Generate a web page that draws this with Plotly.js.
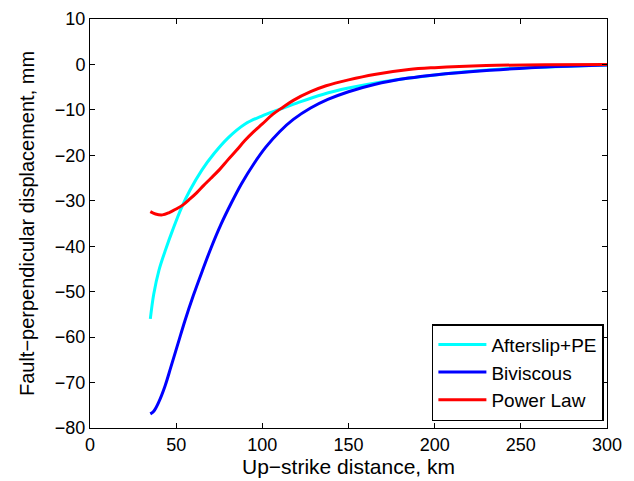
<!DOCTYPE html>
<html>
<head>
<meta charset="utf-8">
<script src="https://cdn.plot.ly/plotly-3.0.1.min.js"></script>
<style>html,body{margin:0;padding:0;background:#fff;}#chart{width:634px;height:481px;}</style>
</head>
<body>
<div id="chart"></div>
<script>
const afterslipX = [35, 37, 40, 44, 48, 53, 58, 65, 72, 80, 90, 100, 110, 120, 135, 150, 170, 200, 235, 270, 300];
const afterslipY = [-56, -50.5, -45.3, -40.6, -36.4, -31.6, -27.7, -23.2, -19.6, -16.2, -13.1, -11.3, -9.9, -8.5, -6.6, -5.2, -3.8, -2.3, -1.1, -0.5, -0.1];

const biviscousX = [35, 37, 40, 43.5, 47, 51, 55, 60, 65, 70, 76, 82, 88, 95, 102, 110, 118, 128, 138, 150, 165, 185, 200, 232, 267, 300];
const biviscousY = [-76.9, -76.3, -74.2, -70.8, -66.5, -61.5, -56.5, -50.8, -45.6, -40.6, -35.2, -30.5, -26.2, -21.9, -18.2, -14.8, -12.1, -9.6, -7.7, -6.0, -4.4, -3.0, -2.3, -1.3, -0.5, -0.1];

const powerLawX = [35, 38, 42, 46, 50, 54, 58, 62, 66, 70, 75, 80, 85, 90, 95, 100, 106, 112, 118, 128, 137, 150, 165, 185, 200, 230, 265, 300];
const powerLawY = [-32.4, -32.9, -33.1, -32.6, -31.8, -30.9, -29.6, -28.2, -26.6, -25.1, -23.2, -21.0, -18.9, -16.7, -14.8, -13.1, -11.0, -9.4, -7.9, -6.0, -4.7, -3.4, -2.2, -1.1, -0.7, -0.25, -0.05, 0];

const seriesNames = ["Afterslip+PE", "Biviscous", "Power Law"];
const seriesColors = ["#00ffff", "#0000ff", "#ff0000"];

const xTicks = [0, 50, 100, 150, 200, 250, 300];
const yTicks = [10, 0, -10, -20, -30, -40, -50, -60, -70, -80];

const xs = [afterslipX, biviscousX, powerLawX];
const ys = [afterslipY, biviscousY, powerLawY];

const traces = seriesNames.map((name, i) => ({
  x: xs[i], y: ys[i], name: name, type: 'scatter', mode: 'lines',
  line: {color: seriesColors[i], width: 3, shape: 'spline', smoothing: 1}
}));

const font = {family: 'Liberation Sans, Arial, sans-serif', color: '#000'};

const layout = {
  width: 634, height: 481,
  margin: {l: 90, r: 27, t: 19, b: 53},
  paper_bgcolor: '#fff', plot_bgcolor: '#fff',
  showlegend: true,
  legend: {
    x: 0.994, y: 0.017, xanchor: 'right', yanchor: 'bottom',
    bgcolor: '#fff', bordercolor: '#000', borderwidth: 1.5,
    font: Object.assign({size: 19}, font),
    tracegroupgap: 0, itemwidth: 48
  },
  xaxis: {
    range: [0, 300], tickvals: xTicks, ticktext: xTicks.map(String),
    ticks: 'inside', ticklen: 5, tickcolor: '#000', tickwidth: 1,
    showline: true, linecolor: '#000', linewidth: 1, mirror: 'ticks',
    showgrid: false, zeroline: false,
    tickfont: Object.assign({size: 18}, font),
    title: {text: 'Up\u2212strike distance, km', font: Object.assign({size: 21}, font), standoff: 4}
  },
  yaxis: {
    range: [-80, 10], tickvals: yTicks, ticktext: yTicks.map(v => v < 0 ? '\u2212' + Math.abs(v) : String(v)),
    ticks: 'inside', ticklen: 5, tickcolor: '#000', tickwidth: 1,
    showline: true, linecolor: '#000', linewidth: 1, mirror: 'ticks',
    showgrid: false, zeroline: false,
    tickfont: Object.assign({size: 18}, font),
    title: {text: 'Fault\u2212perpendicular displacement, mm', font: Object.assign({size: 20}, font), standoff: 14}
  }
};

Plotly.newPlot('chart', traces, layout, {staticPlot: true, displayModeBar: false});
</script>
</body>
</html>
